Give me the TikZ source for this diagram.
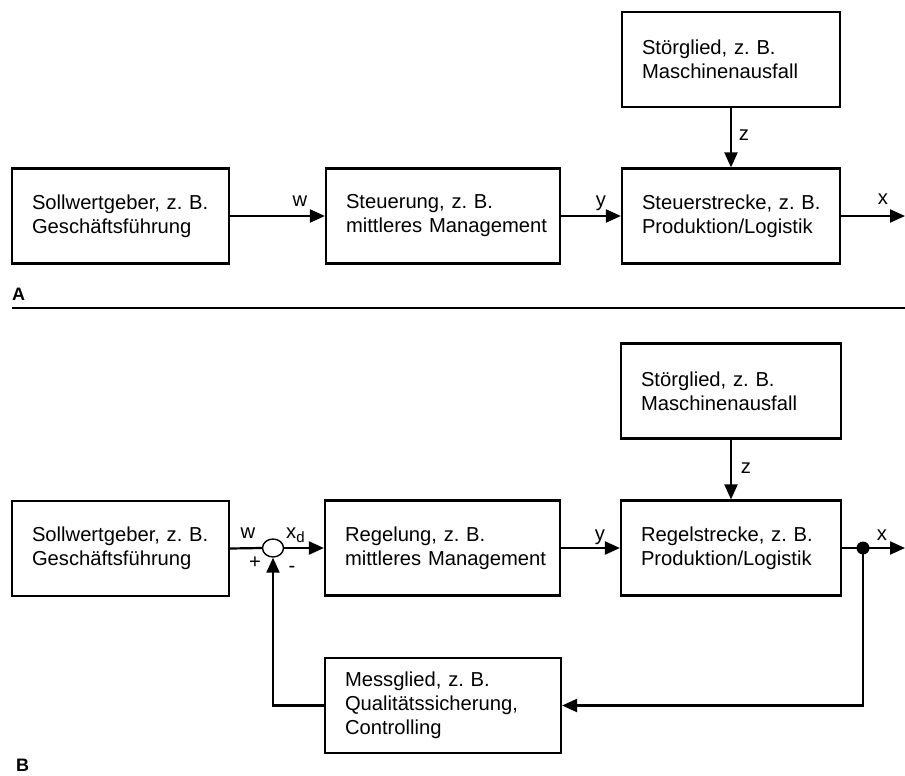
\documentclass[tikz,border=0pt]{standalone}
\usepackage{fontspec}
\setmainfont{Liberation Sans}
\usetikzlibrary{arrows.meta,shapes.geometric}
\frenchspacing
\hbadness=10000
\hfuzz=50pt
\begin{document}
\begin{tikzpicture}[x=1pt,y=-1pt,
  blk/.style={draw,line width=2.2pt,inner sep=0pt,align=left,
    font=\fontsize{20.2}{24}\selectfont,minimum height=95pt},
  con/.style={line width=2.2pt},
  arr/.style={con,-{Triangle[length=15pt,width=13pt]}},
  lbl/.style={font=\fontsize{20.2}{24}\selectfont,anchor=base,inner sep=0pt},
  sect/.style={font=\bfseries\fontsize{18}{20}\selectfont,anchor=base west,inner sep=0pt}]
\useasboundingbox (0,0) rectangle (905,776);

% ---------- Part A ----------
\node[blk,minimum width=217pt,text width=177pt] (sA) at (120.5,216) {\mbox{Sollwertgeber, z. B.}\\\mbox{Geschäftsführung}};
\node[blk,minimum width=234pt,text width=194pt] (cA) at (443,216) {\mbox{Steuerung, z. B.}\\\mbox{mittleres Management}};
\node[blk,minimum width=218pt,text width=178pt] (pA) at (731,216) {\mbox{Steuerstrecke, z. B.}\\\mbox{Produktion/Logistik}};
\node[blk,minimum width=218pt,text width=178pt] (dA) at (731,59.5) {\mbox{Störglied, z. B.}\\\mbox{Maschinenausfall}};
\coordinate (xoutA) at (905,216);

\draw[arr] (sA) -- (cA);
\draw[arr] (cA) -- (pA);
\draw[arr] (dA) -- (pA);
\draw[arr] (pA.east) -- (xoutA);

\node[lbl] (wA) at (300,206) {w};
\node[lbl] (yA) at (601,206) {y};
\node[lbl] (xA) at (883,204) {x};
\node[lbl] (zA) at (744,140) {z};

\node[sect] (labA) at (12,300) {A};
\coordinate (sepL) at (12,308);
\coordinate (sepR) at (905,308);
\draw[line width=1.6pt] (sepL) -- (sepR);

% ---------- Part B ----------
\node[blk,minimum width=220pt,text width=180pt] (dB) at (731,391) {\mbox{Störglied, z. B.}\\\mbox{Maschinenausfall}};
\node[blk,minimum width=217pt,text width=177pt] (sB) at (120.5,548.5) {\mbox{Sollwertgeber, z. B.}\\\mbox{Geschäftsführung}};
\node[blk,minimum width=235pt,text width=195pt] (cB) at (442.5,548) {\mbox{Regelung, z. B.}\\\mbox{mittleres Management}};
\node[blk,minimum width=220pt,text width=180pt] (pB) at (731,548) {\mbox{Regelstrecke, z. B.}\\\mbox{Produktion/Logistik}};
\node[blk,minimum width=236pt,text width=196pt] (mB) at (443,705.5) {\mbox{Messglied, z. B.}\\\mbox{Qualitätssicherung,}\\\mbox{Controlling}};

\node[ellipse,draw,line width=1.4pt,minimum width=21pt,minimum height=18pt,inner sep=0pt] (sum) at (273,548) {};
\node[circle,fill,minimum size=13pt,inner sep=0pt] (dot) at (863,548) {};
\coordinate (xoutB) at (905,548);

\draw[con] (sB.east) -- (sum.west);
\draw[arr] (sum.east) -- (cB.west);
\draw[arr] (cB) -- (pB);
\draw[arr] (dB) -- (pB);
\draw[arr] (pB.east) -- (xoutB);
\draw[arr] (dot.center) |- (mB.east);
\draw[arr] (mB.west) -| (sum.south);

\node[lbl] (wB) at (248,538) {w};
\node[lbl,anchor=base west] (xdB) at (286,538) {x\raisebox{-4pt}{\fontsize{15}{15}\selectfont d}};
\node[lbl] (plus) at (255,568) {+};
\node[lbl] (minus) at (292,572) {-};
\node[lbl] (yB) at (600,540) {y};
\node[lbl] (xB) at (882,540) {x};
\node[lbl] (zB) at (746,473) {z};

\node[sect] (labB) at (16,771) {B};
\end{tikzpicture}
\end{document}
